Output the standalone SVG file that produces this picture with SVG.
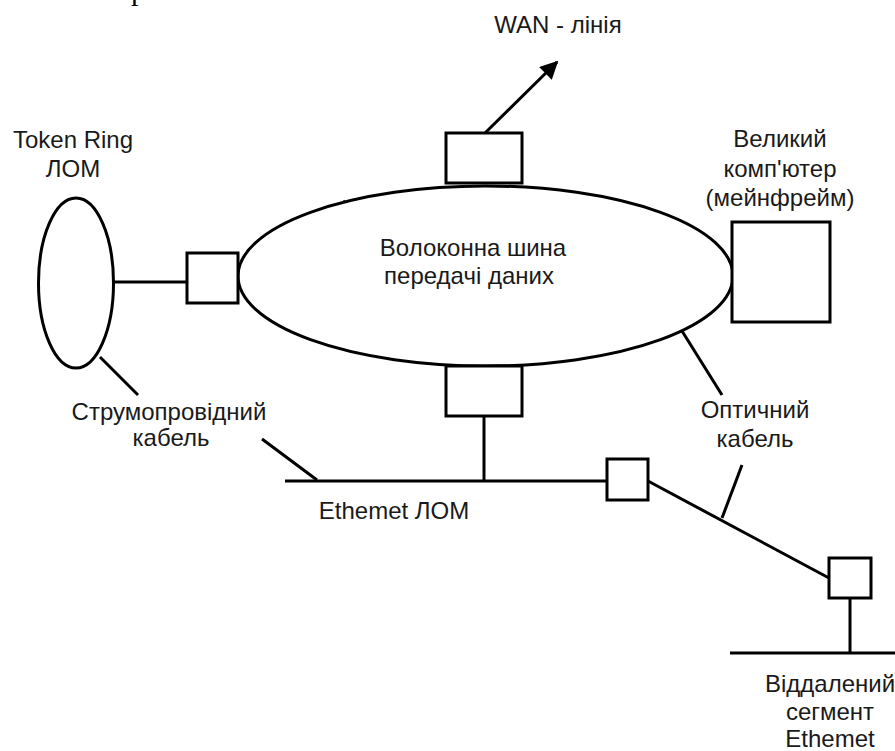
<svg xmlns="http://www.w3.org/2000/svg" width="895" height="751" viewBox="0 0 895 751">
  <defs>
    <style>
      .ln { stroke: #000; stroke-width: 3; fill: none; }
      .box { stroke: #000; stroke-width: 3; fill: #fff; }
      .lbl { font-family: "Liberation Sans", Arial, sans-serif; font-size: 24px; fill: #1a1a1a; text-anchor: middle; }
      .cut { font-family: "Liberation Serif", "Times New Roman", serif; font-size: 30px; fill: #000; }
    </style>
    <marker id="arrow" viewBox="0 0 10 10" refX="9" refY="5" markerWidth="7" markerHeight="6" markerUnits="strokeWidth" orient="auto">
      <path d="M0,0 L10,5 L0,10 z" fill="#000"/>
    </marker>
  </defs>
  <rect width="895" height="751" fill="#fff"/>

  <!-- descender of a line of page text above the figure -->
  <text class="cut" x="131" y="0">р</text>

  <!-- connectors -->
  <g id="connectors">
    <!-- Token Ring to its bridge -->
    <line class="ln" x1="113" y1="282" x2="187" y2="282"/>
    <!-- WAN link leaving the top gateway -->
    <line class="ln" x1="485" y1="133" x2="557" y2="62" marker-end="url(#arrow)"/>
    <!-- lower gateway down to the Ethernet LAN -->
    <line class="ln" x1="484" y1="416" x2="484" y2="481"/>
    <!-- Ethernet LAN bus -->
    <line class="ln" x1="285" y1="481" x2="607" y2="481"/>
    <!-- optical link to the remote segment -->
    <line class="ln" x1="648" y1="481" x2="829" y2="578"/>
    <!-- remote repeater down to the remote bus -->
    <line class="ln" x1="850" y1="598" x2="850" y2="653"/>
    <!-- remote Ethernet bus -->
    <line class="ln" x1="730" y1="653" x2="895" y2="653"/>
    <!-- label leader lines -->
    <line class="ln" x1="100" y1="357" x2="138" y2="395"/>
    <line class="ln" x1="262" y1="439" x2="317" y2="480"/>
    <line class="ln" x1="343" y1="201" x2="380" y2="233"/>
    <line class="ln" x1="682" y1="331" x2="722" y2="395"/>
    <line class="ln" x1="742" y1="465" x2="722" y2="518"/>
  </g>

  <g id="token-ring">
    <ellipse class="ln" cx="76" cy="283" rx="37.5" ry="85"/>
    <text class="lbl" x="73" y="148">Token Ring</text>
    <text class="lbl" x="73" y="177">ЛОМ</text>
  </g>

  <g id="fiber-backbone">
    <ellipse class="box" cx="485.5" cy="276" rx="247.5" ry="90"/>
    <text class="lbl" x="473" y="256">Волоконна шина</text>
    <text class="lbl" x="469" y="284">передачі даних</text>
  </g>

  <g id="token-ring-bridge">
    <rect class="box" x="187" y="253" width="51" height="50"/>
  </g>

  <g id="wan-gateway">
    <rect class="box" x="446" y="133" width="76" height="50"/>
    <text class="lbl" x="558" y="33">WAN - лінія</text>
  </g>

  <g id="mainframe">
    <rect class="box" x="732" y="222" width="98" height="100"/>
    <text class="lbl" x="780" y="147">Великий</text>
    <text class="lbl" x="780" y="177">комп'ютер</text>
    <text class="lbl" x="780" y="206">(мейнфрейм)</text>
  </g>

  <g id="ethernet-gateway">
    <rect class="box" x="446" y="366" width="76" height="50"/>
  </g>

  <g id="ethernet-lan">
    <text class="lbl" x="394" y="519">Ethemet ЛОМ</text>
  </g>

  <g id="copper-cable">
    <text class="lbl" x="169" y="420">Струмопровідний</text>
    <text class="lbl" x="171" y="446">кабель</text>
  </g>

  <g id="optical-cable">
    <text class="lbl" x="755" y="418">Оптичний</text>
    <text class="lbl" x="755" y="447">кабель</text>
  </g>

  <g id="repeater">
    <rect class="box" x="607" y="459" width="41" height="41"/>
  </g>

  <g id="remote-repeater">
    <rect class="box" x="829" y="558" width="42" height="40"/>
  </g>

  <g id="remote-segment">
    <text class="lbl" x="830" y="692">Віддалений</text>
    <text class="lbl" x="830" y="720">сегмент</text>
    <text class="lbl" x="830" y="747">Ethemet</text>
  </g>
</svg>
